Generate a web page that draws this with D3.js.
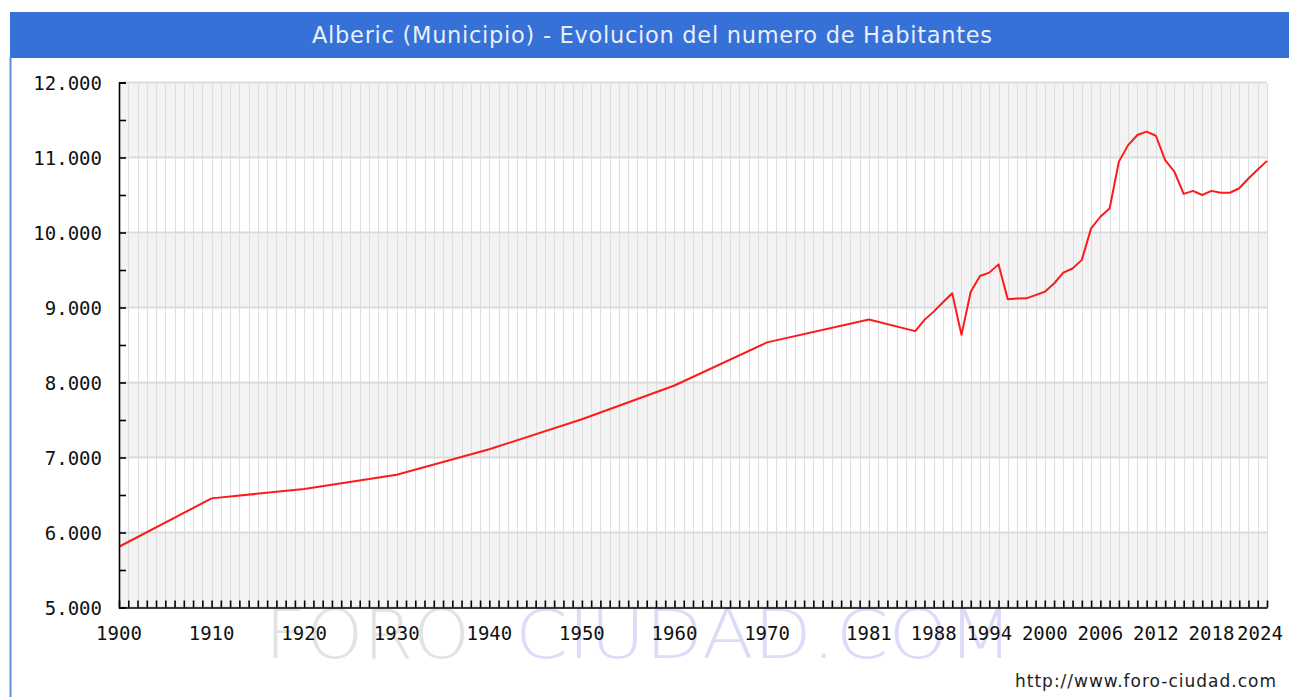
<!DOCTYPE html>
<html>
<head>
<meta charset="utf-8">
<script src="https://cdn.jsdelivr.net/npm/d3@7"></script>
<style>
  body { margin: 0; background: #fff; }
  svg { display: block; }
</style>
</head>
<body>
<div id="chart"></div>
<script>
// Alberic - habitantes por año
const years = [1900, 1910, 1920, 1930, 1940, 1950, 1960, 1970, 1981, 1986, 1987, 1988, 1989, 1990,
  1991, 1992, 1993, 1994, 1995, 1996, 1997, 1998, 1999, 2000, 2001, 2002, 2003, 2004, 2005,
  2006, 2007, 2008, 2009, 2010, 2011, 2012, 2013, 2014, 2015, 2016, 2017, 2018, 2019, 2020,
  2021, 2022, 2023, 2024];
const habitantes = [5810, 6455, 6580, 6770, 7110, 7510, 7960, 8535, 8840, 8685, 8835, 8945, 9070, 9190,
  8635, 9210, 9420, 9465, 9575, 9110, 9120, 9122, 9165, 9210, 9320, 9465, 9520, 9635, 10055,
  10210, 10320, 10945, 11165, 11300, 11345, 11290, 10965, 10810, 10515, 10555, 10500, 10555, 10530, 10530,
  10590, 10720, 10840, 10955];
const xTickYears = [1900, 1910, 1920, 1930, 1940, 1950, 1960, 1970, 1981, 1988, 1994, 2000, 2006, 2012, 2018, 2024];
const yTickValues = [5000, 6000, 7000, 8000, 9000, 10000, 11000, 12000];
const title = "Alberic (Municipio) - Evolucion del numero de Habitantes";

function drawChart(containerId) {
  const W = 1289, H = 697;
  const plot = { left: 119, right: 1267, top: 82.5, bottom: 607.5 };

  const svg = d3.select(`#${containerId}`)
    .append("svg")
      .attr("width", W)
      .attr("height", H);

  // frame + title bar
  svg.append("rect")
    .attr("x", 10).attr("y", 12).attr("width", W - 9).attr("height", 46)
    .attr("fill", "#3571d6");
  svg.append("line")
    .attr("x1", 10.5).attr("x2", 10.5).attr("y1", 57).attr("y2", H)
    .attr("stroke", "#5d8de0").attr("stroke-width", 2);
  svg.append("text")
    .attr("x", 652).attr("y", 43)
    .attr("text-anchor", "middle")
    .attr("textLength", 680).attr("lengthAdjust", "spacing")
    .style("font-family", "'DejaVu Sans', Verdana, sans-serif")
    .style("font-size", "22.5px")
    .attr("fill", "#e9effb")
    .text(title);

  const x = d3.scaleLinear().domain([1900, 2024]).range([plot.left, plot.right]);
  const y = d3.scaleLinear().domain([5000, 12000]).range([plot.bottom, plot.top]);

  // watermark
  const wm = svg.append("g")
    .style("font-family", "'DejaVu Sans', sans-serif")
    .style("font-weight", 200)
    .style("font-size", "68px");
  wm.append("text").attr("x", 265).attr("y", 658)
    .attr("textLength", 205).attr("lengthAdjust", "spacingAndGlyphs")
    .attr("fill", "#e2e2e2").text("FORO");
  wm.append("text").attr("x", 515).attr("y", 658)
    .attr("textLength", 498).attr("lengthAdjust", "spacingAndGlyphs")
    .attr("fill", "#dcdcfa").text("CIUDAD.COM");

  // alternating bands
  svg.append("g")
    .selectAll("rect")
    .data(yTickValues.slice(0, -1))
    .join("rect")
      .attr("x", plot.left)
      .attr("width", plot.right - plot.left)
      .attr("y", d => y(d + 1000))
      .attr("height", d => y(d) - y(d + 1000))
      .attr("fill", (d, i) => i % 2 === 0 ? "#f3f3f3" : "#ffffff");

  // vertical grid, one per year
  svg.append("g")
    .attr("shape-rendering", "crispEdges")
    .selectAll("line")
    .data(d3.range(1900, 2025))
    .join("line")
      .attr("x1", d => Math.round(x(d)) + 0.5).attr("x2", d => Math.round(x(d)) + 0.5)
      .attr("y1", plot.top).attr("y2", plot.bottom)
      .attr("stroke", "#dedede")
      .attr("stroke-width", 1);

  // horizontal grid
  svg.append("g")
    .selectAll("line")
    .data(yTickValues)
    .join("line")
      .attr("x1", plot.left).attr("x2", plot.right)
      .attr("y1", d => y(d)).attr("y2", d => y(d))
      .attr("stroke", "#dcdcdc")
      .attr("stroke-width", 2);

  // line
  const data = years.map((yr, i) => ({ year: yr, value: habitantes[i] }));
  svg.append("path")
    .datum(data)
    .attr("fill", "none")
    .attr("stroke", "#ff1a1a")
    .attr("stroke-width", 2)
    .attr("stroke-linejoin", "round")
    .attr("d", d3.line()
      .x(d => x(d.year))
      .y(d => y(d.value)));

  // axes (ticks point inward)
  const fmt = d => d3.format(",")(d).replace(/,/g, ".");
  svg.append("g")
    .attr("transform", `translate(${plot.left},0)`)
    .call(d3.axisRight(y).tickValues(d3.range(5000, 12001, 500)).tickSize(7).tickFormat(""))
    .call(g => g.selectAll("path, line").attr("stroke", "#000").attr("stroke-width", 1.6));
  svg.append("g")
    .attr("transform", `translate(0,${plot.bottom})`)
    .call(d3.axisTop(x).tickValues(d3.range(1900, 2025)).tickSize(7).tickSizeOuter(0).tickFormat(""))
    .call(g => g.selectAll("path, line").attr("stroke", "#000").attr("stroke-width", 1.6));

  const labelFont = "'DejaVu Sans Mono', monospace";
  svg.append("g")
    .selectAll("text")
    .data(yTickValues)
    .join("text")
      .attr("x", 102)
      .attr("y", d => y(d) + 7)
      .attr("text-anchor", "end")
      .style("font-family", labelFont)
      .style("font-size", "19px")
      .attr("fill", "#111")
      .text(fmt);

  svg.append("g")
    .selectAll("text")
    .data(xTickYears)
    .join("text")
      .attr("x", d => Math.min(x(d), 1260))
      .attr("y", 640)
      .attr("text-anchor", "middle")
      .style("font-family", labelFont)
      .style("font-size", "19px")
      .attr("fill", "#111")
      .text(d => d);

  svg.append("text")
    .attr("x", 1276).attr("y", 687)
    .attr("text-anchor", "end")
    .attr("textLength", 261).attr("lengthAdjust", "spacing")
    .style("font-family", "'DejaVu Sans', Verdana, sans-serif")
    .style("font-size", "17px")
    .attr("fill", "#222")
    .text("http://www.foro-ciudad.com");
}

document.addEventListener("DOMContentLoaded", function () {
  drawChart("chart");
});
</script>
</body>
</html>
